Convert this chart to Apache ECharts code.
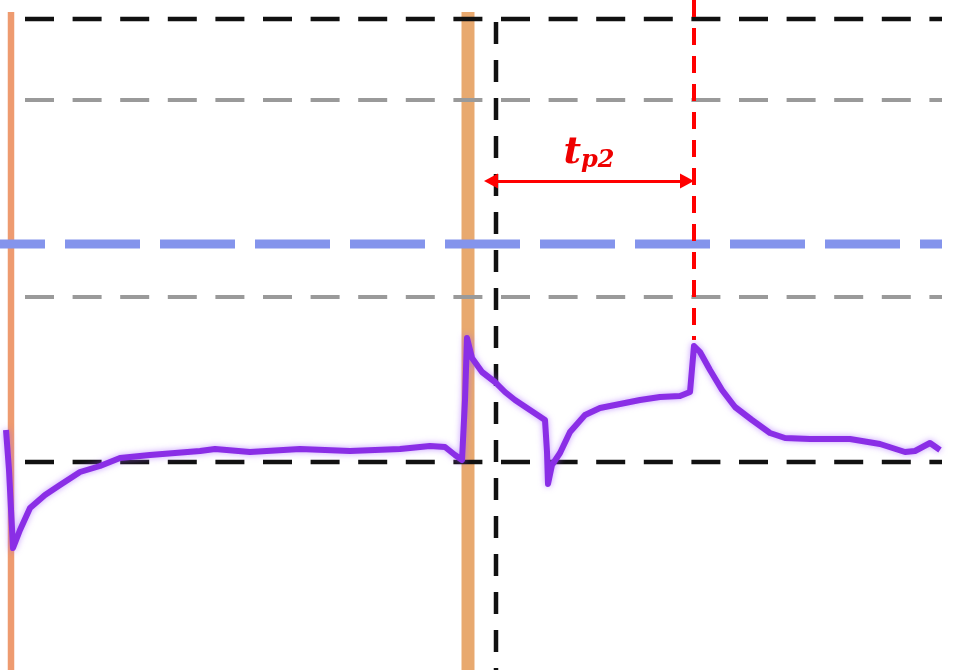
<!DOCTYPE html>
<html>
<head>
<meta charset="utf-8">
<script src="https://cdn.jsdelivr.net/npm/echarts@6/dist/echarts.min.js"></script>
<style>html,body{margin:0;padding:0;background:#fff}#c{width:958px;height:670px}</style>
</head>
<body>
<div id="c"></div>
<script>
// time (a.u.) and signal (a.u.) of the purple trace
var timeData = [0.6,0.9,1.3,2.0,3.0,4.5,6.0,8.0,10.0,12.0,15.0,20.0,21.5,25.0,30.0,35.0,40.0,43.0,44.5,45.5,46.2,46.5,46.7,47.2,48.2,49.5,50.5,51.5,53.0,54.5,54.7,54.8,55.2,56.0,57.0,58.5,60.0,62.0,64.0,66.0,68.0,69.0,69.4,70.0,71.0,72.2,73.5,75.2,77.0,78.5,81.0,85.0,88.0,90.5,91.5,93.0,94.0];
var signalData = [0.32,-0.08,-0.86,-0.68,-0.46,-0.33,-0.23,-0.10,-0.04,0.04,0.07,0.11,0.13,0.10,0.13,0.11,0.13,0.16,0.15,0.07,0.02,0.62,1.24,1.04,0.90,0.80,0.70,0.62,0.52,0.42,0.10,-0.22,-0.03,0.09,0.30,0.47,0.54,0.58,0.62,0.65,0.66,0.70,1.16,1.10,0.92,0.72,0.55,0.42,0.29,0.24,0.23,0.23,0.18,0.10,0.11,0.19,0.12];

// horizontal reference levels
var topLevel = 4.43;
var grayLevels = [3.62, 1.65];
var blueLevel = 2.18;
var baseLevel = 0;
// vertical markers (time)
var orangeLeft = 1.1;
var orangeMid = 46.8;
var blackMarker = 49.6;
var redMarker = 69.4;
// tp2 interval arrow (symbol centres)
var arrowStart = 49.1, arrowEnd = 68.7, arrowLevel = 2.81;

var xMin = 0, xMax = 95.8, yMin = -2.08, yMax = 4.62;
var hStart = 2.5, hEnd = 94.2;

function seg(p1, p2, color, width, dash, z, offset) {
  return {
    type: 'line', data: [p1, p2], showSymbol: false, silent: true, z: z,
    animation: false,
    lineStyle: { color: color, width: width, type: dash, dashOffset: offset || 0, cap: 'butt' }
  };
}

var series = [];
// horizontal dashed lines
series.push(seg([hStart, topLevel], [hEnd, topLevel], '#111', 4.5, [29, 18.6], 3));
grayLevels.forEach(function (g) {
  series.push(seg([hStart, g], [hEnd, g], '#9a9a9a', 4, [29, 18.6], 2));
});
series.push(seg([xMin, blueLevel], [hEnd, blueLevel], '#8494ec', 9, [75, 20], 2, 30));
series.push(seg([hStart, baseLevel], [hEnd, baseLevel], '#111', 4.5, [29, 18.6], 3));
// vertical lines
series.push(seg([orangeLeft, 4.5], [orangeLeft, yMin], '#ee9b70', 6.5, 'solid', 1));
series.push(seg([orangeMid, 4.5], [orangeMid, yMin], 'rgba(230,160,95,0.9)', 13, 'solid', 1));
series.push(seg([blackMarker, 4.40], [blackMarker, yMin], '#111', 4.5, [22, 16], 4));
series.push(seg([redMarker, yMax], [redMarker, 1.22], '#ff0000', 4, [17, 11], 4));
// waveform
series.push({
  type: 'line', data: timeData.map(function (t, i) { return [t, signalData[i]]; }),
  showSymbol: false, silent: true, z: 5, animation: false,
  lineStyle: { color: '#8a2ee6', width: 6, shadowColor: 'rgba(160,90,255,0.6)', shadowBlur: 6, join: 'round' }
});
// tp2 arrow with label
series.push({
  type: 'line', data: [], silent: true, animation: false, z: 6,
  markLine: {
    silent: true, animation: false,
    symbol: ['triangle', 'triangle'], symbolSize: [15, 14],
    lineStyle: { color: '#ff0000', width: 3, type: 'solid' },
    label: {
      show: true, position: 'middle', distance: 8,
      formatter: '{t|t}{s|p2}',
      rich: {
        t: { fontFamily: 'DejaVu Serif', fontStyle: 'italic', fontWeight: 'bold', fontSize: 38, color: '#ee0000' },
        s: { fontFamily: 'DejaVu Serif', fontStyle: 'italic', fontWeight: 'bold', fontSize: 24, color: '#ee0000', padding: [16, 0, 0, 0] }
      }
    },
    data: [[{ coord: [arrowStart, arrowLevel] }, { coord: [arrowEnd, arrowLevel] }]]
  }
});

var chart = echarts.init(document.getElementById('c'));
chart.setOption({
  backgroundColor: '#ffffff',
  animation: false,
  grid: { left: 0, right: 0, top: 0, bottom: 0 },
  xAxis: { type: 'value', min: xMin, max: xMax, show: false },
  yAxis: { type: 'value', min: yMin, max: yMax, show: false },
  series: series
});
</script>
</body>
</html>
